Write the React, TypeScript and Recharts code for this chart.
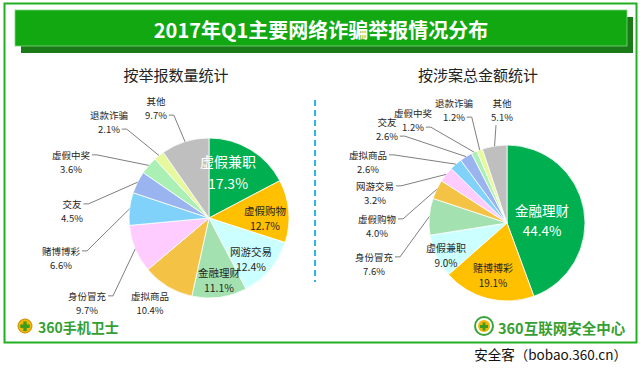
import { PieChart, Pie, Cell } from 'recharts';

const sliceColors = [
  '#00b050', '#ffc000', '#ccffff', '#a3e2b0', '#f4c244', '#ffccff',
  '#80d2fb', '#9ab4f0', '#aaf0b4', '#e6f99c', '#bfbfbf',
];

// 按举报数量统计
const countNames = ['虚假兼职', '虚假购物', '网游交易', '金融理财', '虚拟商品', '身份冒充', '赌博博彩', '交友', '虚假中奖', '退款诈骗', '其他'];
const countShares = [17.3, 12.7, 12.4, 11.1, 10.4, 9.7, 6.6, 4.5, 3.6, 2.1, 9.7];

// 按涉案总金额统计
const amountNames = ['金融理财', '赌博博彩', '虚假兼职', '身份冒充', '虚假购物', '网游交易', '虚拟商品', '交友', '虚假中奖', '退款诈骗', '其他'];
const amountShares = [44.4, 19.1, 9.0, 7.6, 4.0, 3.2, 2.6, 2.6, 1.2, 1.2, 5.1];

const countData = countNames.map((name, i) => ({ name, value: countShares[i] }));
const amountData = amountNames.map((name, i) => ({ name, value: amountShares[i] }));

// label placement relative to pie centre: dx, dy, kind
// kind: big / in = inside slice, none = outside no line, r0 / r1 = leader line from line 0 / 1, b = line from below
const countLabelLayout: [number, number, string][] = [
  [19, -46, 'big'], [56, 0, 'in'], [42, 41, 'in'], [10, 62, 'in'],
  [-59, 85, 'none'], [-122, 85, 'r0'], [-148, 40, 'r0'], [-137, -7, 'r0'],
  [-138, -56, 'r0'], [-100, -96, 'r1'], [-53, -110, 'r1'],
];
const amountLabelLayout: [number, number, string][] = [
  [35, -3, 'big'], [-14, 52, 'in'], [-61, 32, 'in'], [-133, 41, 'r0'],
  [-130, 3, 'r0'], [-132, -30, 'r0'], [-139, -61, 'r0'], [-120, -94, 'r1'],
  [-94, -103, 'r1'], [-53, -113, 'r1'], [-5, -113, 'b'],
];

const FONT = '"Noto Sans CJK SC", "Noto Sans", sans-serif';
const RAD = Math.PI / 180;

const textWidth = (s: string, fs: number) => {
  let w = 0;
  for (const ch of s) {
    if (/[\u4e00-\u9fff]/.test(ch)) w += fs;
    else if (ch === '%') w += fs * 0.85;
    else if (ch === '.') w += fs * 0.3;
    else w += fs * 0.56;
  }
  return w;
};

const makeLabel = (layout: [number, number, string][], bigFs: number, inFs: number) => (props: any) => {
  const { cx, cy, midAngle, outerRadius, index, name, value } = props;
  const [dx, dy, kind] = layout[index];
  const x = cx + dx;
  const y = cy + dy;
  const big = kind === 'big';
  const inside = big || kind === 'in';
  const fs = big ? bigFs : inside ? inFs : 9.5;
  const gap = big ? fs * 1.55 : fs * 1.5;
  const y0 = y - gap / 2;
  const y1 = y + gap / 2;
  const pct = `${Number(value).toFixed(1)}%`;
  let line = null;
  if (kind === 'r0' || kind === 'r1' || kind === 'b') {
    const ex = cx + outerRadius * Math.cos(-midAngle * RAD);
    const ey = cy + outerRadius * Math.sin(-midAngle * RAD);
    let pts = '';
    if (kind === 'b') {
      const ax = x - 6;
      const ay = y1 + 8;
      pts = `${ax},${ay} ${ex},${ey}`;
    } else {
      const s = kind === 'r0' ? name : pct;
      const ay = kind === 'r0' ? y0 : y1;
      const ax = x + textWidth(s, fs) / 2 + 2;
      pts = `${ax},${ay} ${ax + 5},${ay} ${ex},${ey}`;
    }
    line = <polyline points={pts} fill="none" stroke="#7f7f7f" strokeWidth={1} />;
  }
  const color = big ? '#ffffff' : '#262626';
  return (
    <g>
      {line}
      <text x={x} y={y0} textAnchor="middle" dominantBaseline="central" fontSize={fs} fill={color} fontFamily={FONT}>
        {name}
      </text>
      <text x={x} y={y1} textAnchor="middle" dominantBaseline="central" fontSize={fs} fill={color} fontFamily={FONT}>
        {pct}
      </text>
    </g>
  );
};

const countLabel = makeLabel(countLabelLayout, 14, 10.5);
const amountLabel = makeLabel(amountLabelLayout, 13.5, 10);

const Backdrop = () => (
  <svg width={640} height={372} style={{ position: 'absolute', left: 0, top: 0 }}>
    <rect x={0} y={0} width={640} height={372} fill="#ffffff" />
    <rect x={4.5} y={3.5} width={632} height={339} fill="#ffffff" stroke="#22b022" strokeWidth={2} />
    <rect x={21} y={17} width={612} height={36} fill="#197a17" />
    <rect x={15} y={10} width={612} height={36} fill="#12a812" stroke="#7fd47f" strokeWidth={0.8} />
    <text x={321} y={29} textAnchor="middle" dominantBaseline="central" fontSize={20} fontWeight="bold" fill="#ffffff" fontFamily={FONT}>
      2017年Q1主要网络诈骗举报情况分布
    </text>
    <text x={176} y={74} textAnchor="middle" dominantBaseline="central" fontSize={15} fill="#222" fontFamily={FONT}>
      按举报数量统计
    </text>
    <text x={478} y={74} textAnchor="middle" dominantBaseline="central" fontSize={15} fill="#222" fontFamily={FONT}>
      按涉案总金额统计
    </text>
    <line x1={315} y1={100} x2={315} y2={282} stroke="#2bb5e8" strokeWidth={2} strokeDasharray="6 4" />
    <g>
      <circle cx={25} cy={326} r={7} fill="#f2b705" stroke="#c98a00" strokeWidth={1} />
      <path d="M23.3 321.5h3.4v3h3v3.4h-3v3h-3.4v-3h-3v-3.4h3z" fill="#3d9c1c" />
      <text x={38} y={327} dominantBaseline="central" fontSize={14} fontWeight="bold" fill="#34a034" fontFamily={FONT}>
        360手机卫士
      </text>
    </g>
    <g>
      <circle cx={484} cy={326} r={9} fill="#ffffff" stroke="#3aa33a" strokeWidth={2} />
      <circle cx={484} cy={326} r={6} fill="#f2b705" />
      <path d="M482.6 322.5h2.8v2.6h2.6v2.8h-2.6v2.6h-2.8v-2.6h-2.6v-2.8h2.6z" fill="#3d9c1c" />
      <text x={498} y={327} dominantBaseline="central" fontSize={14.5} fontWeight="bold" fill="#34a034" fontFamily={FONT}>
        360互联网安全中心
      </text>
    </g>
    <text x={627} y={354} textAnchor="end" dominantBaseline="central" fontSize={13.5} fill="#111" fontFamily={FONT}>
      安全客（bobao.360.cn）
    </text>
  </svg>
);

export default function App() {
  return (
    <div style={{ position: 'fixed', left: 0, top: 0, width: 640, height: 372, background: '#fff' }}>
      <Backdrop />
      <div style={{ position: 'absolute', left: 0, top: 0 }}>
        <PieChart width={640} height={372}>
          <Pie
            data={countData}
            dataKey="value"
            nameKey="name"
            cx={204}
            cy={213}
            outerRadius={80}
            startAngle={90}
            endAngle={-270}
            stroke="#ffffff"
            strokeWidth={0.8}
            labelLine={false}
            label={countLabel}
            isAnimationActive={false}
          >
            {countData.map((d, i) => (
              <Cell key={d.name} fill={sliceColors[i]} />
            ))}
          </Pie>
          <Pie
            data={amountData}
            dataKey="value"
            nameKey="name"
            cx={502}
            cy={218}
            outerRadius={78}
            startAngle={90}
            endAngle={-270}
            stroke="#ffffff"
            strokeWidth={0.8}
            labelLine={false}
            label={amountLabel}
            isAnimationActive={false}
          >
            {amountData.map((d, i) => (
              <Cell key={d.name} fill={sliceColors[i]} />
            ))}
          </Pie>
        </PieChart>
      </div>
    </div>
  );
}
